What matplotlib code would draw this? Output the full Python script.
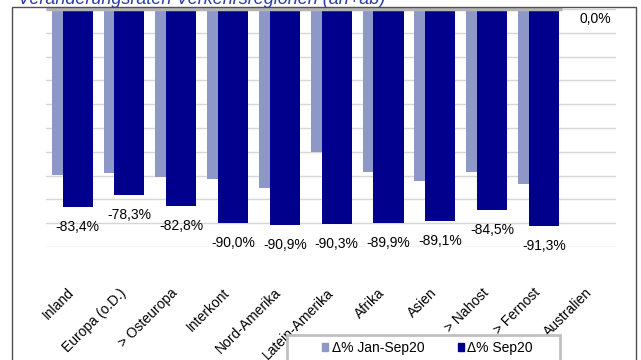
import matplotlib.pyplot as plt
from matplotlib.patches import Patch, Rectangle
import numpy as np

plt.rcParams["font.family"] = ["Liberation Sans", "DejaVu Sans"]

regions = ["Inland", "Europa (o.D.)", "> Osteuropa", "Interkont", "Nord-Amerika",
           "Latein-Amerika", "Afrika", "Asien", "> Nahost", "> Fernost", "Australien"]
jan_sep20 = [-69.7, -69.0, -70.7, -71.4, -75.1, -60.0, -68.4, -72.1, -68.4, -73.7, 0.0]
sep20 = [-83.4, -78.3, -82.8, -90.0, -90.9, -90.3, -89.9, -89.1, -84.5, -91.3, 0.0]

light = "#8e98c8"
dark = "#00008c"

W, H = 641, 360
fig = plt.figure(figsize=(W / 100, H / 100), dpi=100)
ax = fig.add_axes([46 / W, 1 - 247 / H, 570 / W, 238 / H])

x = np.arange(len(regions))
bw = 0.58
ax.bar(x - 0.1, jan_sep20, bw, color=light, zorder=2)
ax.bar(x + 0.11, sep20, bw, color=dark, zorder=3)

# value labels under the Sep bars
for xi, v in zip(x, sep20):
    off = -20 if v < 0 else -10
    ax.annotate(f"{v:.1f}%".replace(".", ","), (xi + 0.11, v), xytext=(0, off),
                textcoords="offset pixels", ha="center", va="center", fontsize=10)

ax.set_xlim(-0.5, len(regions) - 0.5)
ax.set_ylim(-100, 0)
ax.set_yticks(np.arange(-100, 1, 10))
ax.yaxis.grid(True, color="#d6d6d6", lw=1)
ax.set_axisbelow(True)
ax.tick_params(axis="y", left=False, labelleft=False)
ax.plot([-0.5, 9.45], [0, 0], color="#b4b4b4", lw=2.5, zorder=4, clip_on=False,
        solid_capstyle="butt")
for s in ax.spines.values():
    s.set_visible(False)

ax.set_xticks(x)
ax.set_xticklabels(regions, rotation=45, ha="right", va="center",
                   rotation_mode="anchor", fontsize=10)
ax.tick_params(axis="x", bottom=False, pad=28)

# chart border, open at the bottom edge
fig.add_artist(Rectangle((11.5 / W, -0.1), 624 / W, 1.1 - 7.5 / H,
                         transform=fig.transFigure, fill=False,
                         edgecolor="#505050", lw=1))

fig.text(18 / W, 1 - 4 / H, "Veränderungsraten Verkehrsregionen (an+ab)",
         fontsize=13, style="italic", color="#2a3ea0", va="baseline")

# legend box runs past the bottom edge
fig.add_artist(Rectangle((287 / W, -0.1), 273 / W, 0.1 + 1 - 335 / H,
                         transform=fig.transFigure, facecolor="white",
                         edgecolor="#c0c0c0", lw=2, zorder=5))
handles = [Patch(color=light, label="Δ% Jan-Sep20"),
           Patch(color=dark, label="Δ% Sep20")]
leg = fig.legend(handles=handles, loc="center left", ncol=2,
                 bbox_to_anchor=(322 / W, 1 - 348 / H), fontsize=10,
                 handlelength=0.45, handleheight=0.45, handletextpad=0.25,
                 columnspacing=2.4, borderpad=0, frameon=False,
                 borderaxespad=0)
leg.set_zorder(6)

fig.savefig("out.png", dpi=100)
